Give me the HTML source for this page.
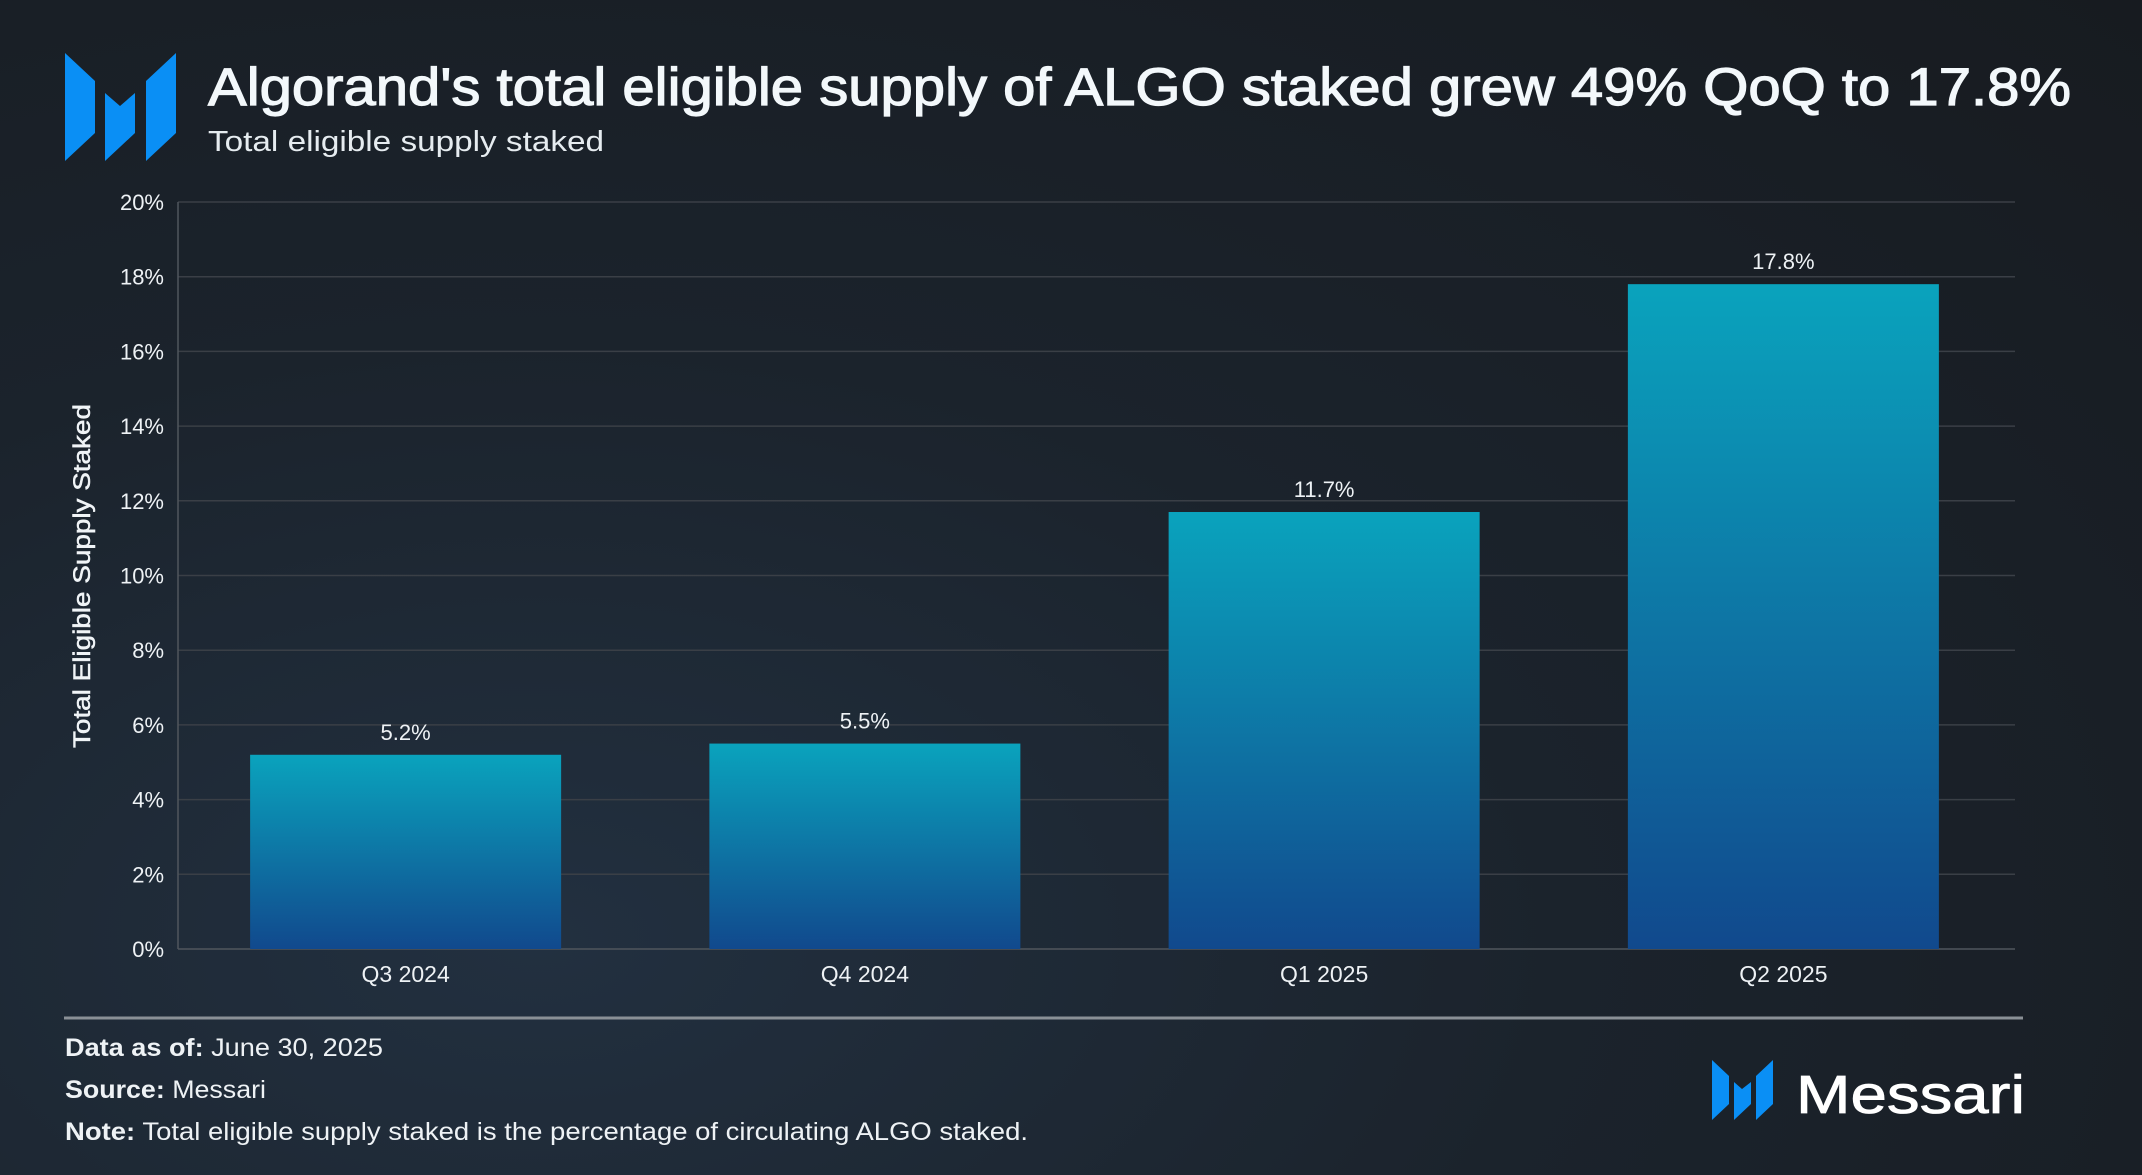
<!DOCTYPE html>
<html><head><meta charset="utf-8"><style>
html,body{margin:0;padding:0;}
body{width:2142px;height:1175px;overflow:hidden;background:radial-gradient(ellipse at 25% 80%,#223040 0%,#1b232c 45%,#171b20 100%);font-family:"Liberation Sans",sans-serif;}
svg{display:block}
</style></head><body>
<svg width="2142" height="1175">
<defs>
<linearGradient id="barg" x1="0" y1="0" x2="0" y2="1">
<stop offset="0" stop-color="#0aa3bd"/><stop offset="1" stop-color="#11498d"/>
</linearGradient>
</defs>
<g fill="#0a8ff5">
<polygon points="65,53 95,81 95,133 65,161"/>
<polygon points="105,93 120,106 135,93 135,133 105,161"/>
<polygon points="176,53 146,81 146,161 176,133"/>
</g>
<text x="208" y="105" font-size="53" fill="#f3f8fb" stroke="#f3f8fb" stroke-width="1.2" textLength="1863" lengthAdjust="spacingAndGlyphs">Algorand's total eligible supply of ALGO staked grew 49% QoQ to 17.8%</text>
<text x="208" y="151" font-size="29" fill="#e6ecf0" textLength="396" lengthAdjust="spacingAndGlyphs">Total eligible supply staked</text>
<g id="grid"></g>
<g id="bars"></g>
<text transform="translate(90,576) rotate(-90)" text-anchor="middle" font-size="24" fill="#f0f4f7" stroke="#f0f4f7" stroke-width="0.5" textLength="344" lengthAdjust="spacingAndGlyphs">Total Eligible Supply Staked</text>
<line x1="64" y1="1018" x2="2023" y2="1018" stroke="#8a9096" stroke-width="3"/>
<text x="65" y="1056" font-size="25" fill="#eef2f5" textLength="318" lengthAdjust="spacingAndGlyphs"><tspan font-weight="bold">Data as of:</tspan> June 30, 2025</text>
<text x="65" y="1098" font-size="25" fill="#eef2f5" textLength="201" lengthAdjust="spacingAndGlyphs"><tspan font-weight="bold">Source:</tspan> Messari</text>
<text x="65" y="1140" font-size="25" fill="#eef2f5" textLength="963" lengthAdjust="spacingAndGlyphs"><tspan font-weight="bold">Note:</tspan> Total eligible supply staked is the percentage of circulating ALGO staked.</text>
<g fill="#0a8ff5">
<polygon points="1712,1060 1729,1076 1729,1104 1712,1120"/>
<polygon points="1734,1082 1742,1089 1751,1082 1751,1104 1734,1120"/>
<polygon points="1773,1060 1756,1076 1756,1120 1773,1104"/>
</g>
<text x="1796" y="1113" font-size="54" fill="#ffffff" stroke="#ffffff" stroke-width="0.8" textLength="229" lengthAdjust="spacingAndGlyphs">Messari</text>
</svg>
<script>
const categories=["Q3 2024","Q4 2024","Q1 2025","Q2 2025"];
const values=[5.2,5.5,11.7,17.8];
const valueLabels=["5.2%","5.5%","11.7%","17.8%"];
const yTicks=[0,2,4,6,8,10,12,14,16,18,20];
const NS="http://www.w3.org/2000/svg";
const X0=178,X1=2015,Y0=949,Y1=202;
const band=(X1-X0)/categories.length, bw=311;
function y(v){return Y0-(v-0)/(20-0)*(Y0-Y1);}
function xc(i){return X0-2+band*(i+0.5);}
function mk(t,a,p){const e=document.createElementNS(NS,t);for(const k in a)e.setAttribute(k,a[k]);p.appendChild(e);return e;}
const g=document.getElementById('grid'),b=document.getElementById('bars');
yTicks.forEach(t=>{
 const l=mk('line',{x1:X0,x2:X1,y1:y(t),y2:y(t),stroke:t===0?'#50565d':'#3a3f46','stroke-width':1.5},g);
 
 
 const tx=mk('text',{x:164,y:y(t)+8,'text-anchor':'end','font-size':22,fill:'#eef2f5'},g);
 tx.textContent=t+'%';
 
 
});
const ax=mk('line',{x1:X0,x2:X0,y1:Y1,y2:Y0,stroke:'#50565d','stroke-width':1.5},g);


categories.forEach((c,i)=>{
 const r=mk('rect',{x:xc(i)-bw/2,y:y(values[i]),width:bw,height:Y0-y(values[i]),fill:'url(#barg)'},b);
 
 
 const vl=mk('text',{x:xc(i),y:y(values[i])-15,'text-anchor':'middle','font-size':22,fill:'#eef2f5'},b);
 vl.textContent=valueLabels[i];
 
 
 const xl=mk('text',{x:xc(i),y:982,'text-anchor':'middle','font-size':23,fill:'#eef2f5'},b);
 xl.textContent=c;
 
 
});
</script>
</body></html>
